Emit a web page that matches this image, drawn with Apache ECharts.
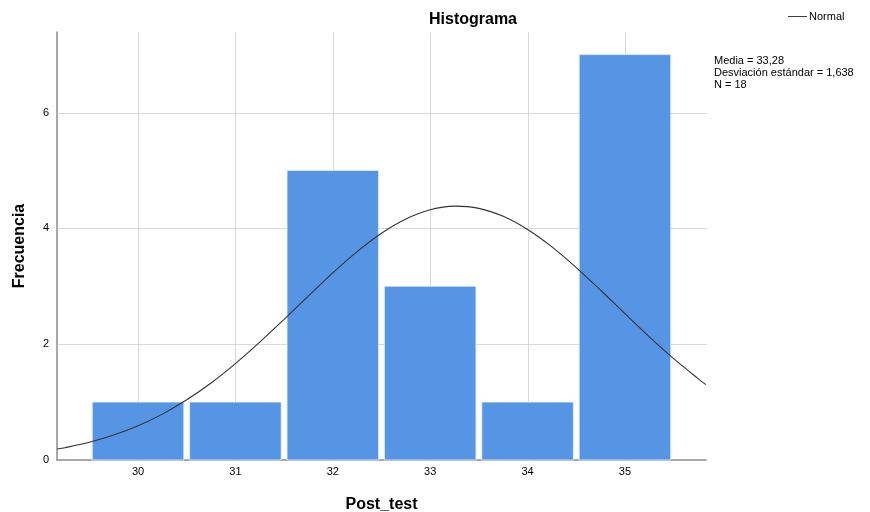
<!DOCTYPE html>
<html>
<head>
<meta charset="utf-8">
<script src="https://cdn.jsdelivr.net/npm/echarts@6/dist/echarts.min.js"></script>
<style>html,body{margin:0;padding:0;background:#fff}#c{width:870px;height:512px}</style>
</head>
<body>
<div id="c"></div>
<script>
// Histogram bins (bin centres) and frequencies
var binCenters = [30, 31, 32, 33, 34, 35];
var frequencies = [1, 1, 5, 3, 1, 7];
// Normal curve (x, frequency)
var curveX = [29.17, 29.25, 29.5, 29.75, 30, 30.25, 30.5, 30.75, 31, 31.25, 31.5, 31.75, 32, 32.25, 32.5, 32.75, 33, 33.25, 33.5, 33.75, 34, 34.25, 34.5, 34.75, 35, 35.25, 35.5, 35.75, 35.83];
var curveY = [0.19, 0.213, 0.306, 0.430, 0.590, 0.792, 1.039, 1.330, 1.664, 2.034, 2.429, 2.834, 3.231, 3.598, 3.914, 4.160, 4.320, 4.383, 4.345, 4.207, 3.980, 3.679, 3.322, 2.931, 2.526, 2.127, 1.750, 1.406, 1.302];
var xTicks = [30, 31, 32, 33, 34, 35];
var yTicks = [0, 2, 4, 6];
var statsLines = ['Media = 33,28', 'Desviación estándar = 1,638', 'N = 18'];

var chart = echarts.init(document.getElementById('c'), null, {renderer: 'canvas'});
var font = 'Liberation Sans, Arial, sans-serif';
var barData = binCenters.map(function (c, i) { return [c, frequencies[i]]; });
var curveData = curveX.map(function (x, i) { return [x, curveY[i]]; });
var gridData = xTicks.map(function (t) { return [t, 0]; }).concat(yTicks.slice(1).map(function (t) { return [0, t]; }));

chart.setOption({
  animation: false,
  textStyle: {fontFamily: font},
  title: {
    text: 'Histograma', left: 468, top: 7, textAlign: 'center',
    textStyle: {fontFamily: font, fontSize: 16, fontWeight: 'bold', color: '#000'}
  },
  legend: {
    left: 783, top: 6, itemWidth: 19, itemHeight: 10, itemGap: 4,
    data: [{name: 'Normal', icon: 'path://M0,5L20,5L20,6L0,6Z'}],
    textStyle: {fontFamily: font, fontSize: 11, color: '#000', padding: [0, 0, 0, -3]}
  },
  graphic: [{
    type: 'text', left: 714, top: 55,
    style: {text: statsLines.join('\n'), font: '11px ' + font, fill: '#000', lineHeight: 12}
  }],
  grid: {left: 57, right: 164, top: 32, bottom: 52, containLabel: false, outerBoundsMode: 'none'},
  xAxis: {
    type: 'value', min: 29.168, max: 35.832,
    name: 'Post_test', nameLocation: 'middle', nameGap: 37,
    nameTextStyle: {fontFamily: font, fontSize: 16, fontWeight: 'bold', color: '#000'},
    axisLine: {show: true, lineStyle: {color: '#8c8c8c', width: 1.5}},
    axisTick: {show: false},
    splitLine: {show: false},
    axisLabel: {customValues: xTicks, color: '#000', fontSize: 11, margin: 6, fontFamily: font}
  },
  yAxis: {
    type: 'value', min: 0, max: 7.39,
    name: 'Frecuencia', nameLocation: 'middle', nameGap: 29, nameRotate: 90,
    nameTextStyle: {fontFamily: font, fontSize: 16, fontWeight: 'bold', color: '#000'},
    axisLine: {show: true, lineStyle: {color: '#8c8c8c', width: 1.5}},
    axisTick: {show: false},
    splitLine: {show: false},
    axisLabel: {customValues: yTicks, color: '#000', fontSize: 11, margin: 8, fontFamily: font}
  },
  series: [
    {
      type: 'custom', name: 'grid', z: 1, silent: true,
      data: gridData,
      renderItem: function (params, api) {
        var vx = api.value(0), vy = api.value(1);
        var a, b;
        if (vy === 0) {
          a = api.coord([vx, 0]); b = api.coord([vx, 7.39]);
        } else {
          a = api.coord([29.168, vy]); b = api.coord([35.832, vy]);
        }
        return {
          type: 'line',
          shape: {x1: Math.round(a[0]) + 0.5, y1: Math.round(a[1]) + 0.5, x2: Math.round(b[0]) + 0.5, y2: Math.round(b[1]) + 0.5},
          style: {stroke: '#d9d9d9', lineWidth: 1}
        };
      }
    },
    {
      type: 'custom', name: 'bars', z: 2,
      data: barData,
      renderItem: function (params, api) {
        var c = api.value(0), v = api.value(1);
        var p0 = api.coord([c - 0.47, v]);
        var p1 = api.coord([c + 0.47, 0]);
        return {
          type: 'rect',
          shape: {x: p0[0], y: p0[1], width: p1[0] - p0[0], height: p1[1] - p0[1]},
          style: {fill: '#5595e4', stroke: '#e8f0fb', lineWidth: 0.8}
        };
      }
    },
    {
      type: 'line', name: 'Normal', z: 3,
      data: curveData, smooth: 0.3, showSymbol: false, symbol: 'none',
      lineStyle: {color: '#333', width: 1.1},
      itemStyle: {color: '#333'}
    }
  ]
});
</script>
</body>
</html>
